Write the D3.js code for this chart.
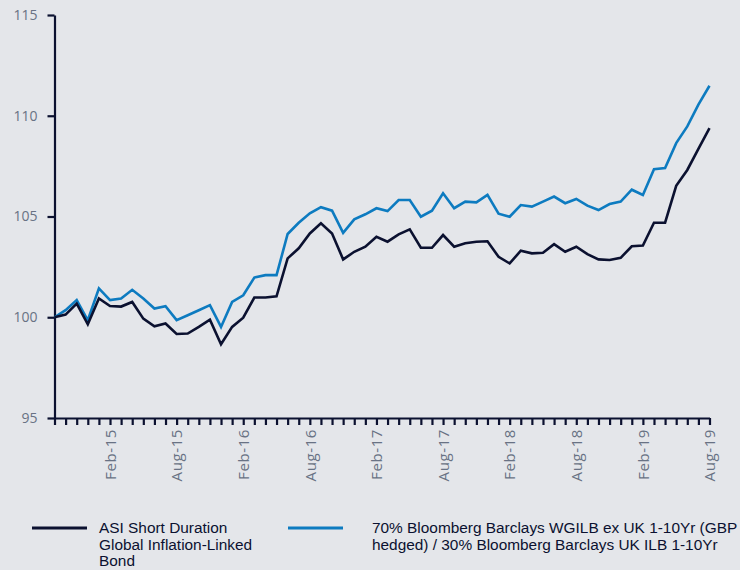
<!DOCTYPE html>
<html>
<head>
<meta charset="utf-8">
<script src="https://cdn.jsdelivr.net/npm/d3@7"></script>
<style>
	body { margin: 0; background: #e4e6ea; }
	svg { display: block; }
</style>
</head>
<body>
<div id="chart"></div>
<script>
var width = 740;
var height = 570;

// monthly points, Sep-14 .. Aug-19
var months = d3.timeMonth.range(new Date(2014, 8, 1), new Date(2019, 8, 1));

var tickLabels = ["Feb-15", "Aug-15", "Feb-16", "Aug-16", "Feb-17", "Aug-17", "Feb-18", "Aug-18", "Feb-19", "Aug-19"];

var fund = [
	100.00, 100.13, 100.68, 99.65, 100.93, 100.56, 100.53, 100.76, 99.93, 99.55,
	99.69, 99.17, 99.19, 99.52, 99.88, 98.66, 99.52, 99.98, 100.98, 100.98,
	101.04, 102.92, 103.42, 104.16, 104.66, 104.16, 102.87, 103.25, 103.50, 103.99,
	103.75, 104.11, 104.36, 103.45, 103.45, 104.08, 103.50, 103.67, 103.75, 103.77,
	103.00, 102.67, 103.30, 103.17, 103.20, 103.63, 103.25, 103.50, 103.13, 102.87,
	102.84, 102.95, 103.52, 103.56, 104.69, 104.69, 106.52, 107.31, 108.36, 109.39
];

var bench = [
	100.00, 100.35, 100.85, 99.85, 101.43, 100.85, 100.93, 101.36, 100.93, 100.43,
	100.55, 99.86, 100.10, 100.35, 100.60, 99.52, 100.76, 101.09, 101.97, 102.09,
	102.09, 104.13, 104.69, 105.16, 105.46, 105.29, 104.19, 104.86, 105.11, 105.41,
	105.27, 105.82, 105.82, 104.99, 105.29, 106.15, 105.41, 105.74, 105.70, 106.07,
	105.14, 104.99, 105.57, 105.49, 105.74, 105.99, 105.66, 105.87, 105.54, 105.32,
	105.62, 105.74, 106.33, 106.07, 107.35, 107.40, 108.64, 109.47, 110.55, 111.49
];

var yTicks = [95, 100, 105, 110, 115];

var navy = "#0b1130";
var blue = "#0d7bc0";
var grey = "#687284";

var svg = d3
	.select("#chart")
	.append("svg")
	.attr("width", width)
	.attr("height", height);

var fmt = d3.timeFormat("%b-%y");

var xscale = d3.scalePoint().domain(months).range([54.5, 709.5]);
var yscale = d3.scaleLinear().domain([95, 115]).range([418, 15]);

// y axis
var yaxis = svg
	.append("g")
	.attr("transform", "translate(54.5,0)")
	.call(d3.axisLeft(yscale).tickValues(yTicks).tickSize(7).tickSizeOuter(0).tickPadding(10));

// x axis
var xaxis = svg
	.append("g")
	.attr("transform", "translate(0,418)")
	.call(
		d3
			.axisBottom(xscale)
			.tickSize(7)
			.tickSizeOuter(0)
			.tickFormat((d) => (tickLabels.indexOf(fmt(d)) >= 0 ? fmt(d) : ""))
	);

[xaxis, yaxis].forEach(function (ax) {
	ax.select(".domain").attr("stroke", navy).attr("stroke-width", 2.2);
	ax.selectAll(".tick line").attr("stroke", navy).attr("stroke-width", 2.2);
	ax.selectAll("text")
		.attr("fill", grey)
		.attr("font-family", "'Open Sans', sans-serif")
		.attr("font-size", "14px");
});

xaxis
	.selectAll("text")
	.attr("transform", "rotate(-90)")
	.attr("text-anchor", "end")
	.attr("x", -11)
	.attr("y", 0)
	.attr("dy", "0.35em")
	.attr("font-size", "15px")
	.attr("letter-spacing", "0.6px");

var line = d3
	.line()
	.x((d, i) => xscale(months[i]))
	.y((d) => yscale(d));

svg.append("path")
	.datum(bench)
	.attr("fill", "none")
	.attr("stroke", blue)
	.attr("stroke-width", 2.6)
	.attr("d", line);

svg.append("path")
	.datum(fund)
	.attr("fill", "none")
	.attr("stroke", navy)
	.attr("stroke-width", 2.6)
	.attr("d", line);

// legend
var legend = [
	{ color: navy, x: 32, tx: 99, lines: ["ASI Short Duration", "Global Inflation-Linked", "Bond"] },
	{ color: blue, x: 288, tx: 372, lines: ["70% Bloomberg Barclays WGILB ex UK 1-10Yr (GBP", "hedged) / 30% Bloomberg Barclays UK ILB 1-10Yr"] },
];

var lg = svg.append("g");
legend.forEach(function (item) {
	lg.append("line")
		.attr("x1", item.x)
		.attr("x2", item.x + 55)
		.attr("y1", 528)
		.attr("y2", 528)
		.attr("stroke", item.color)
		.attr("stroke-width", 3);
	var t = lg
		.append("text")
		.attr("x", item.tx)
		.attr("y", 533)
		.attr("font-family", "'Liberation Sans Narrow', 'Arial Narrow', sans-serif")
		.attr("font-size", "15.4px")
		.attr("fill", navy);
	item.lines.forEach(function (l, i) {
		t.append("tspan")
			.attr("x", item.tx)
			.attr("dy", i === 0 ? 0 : 16.5)
			.text(l);
	});
});
</script>
</body>
</html>
